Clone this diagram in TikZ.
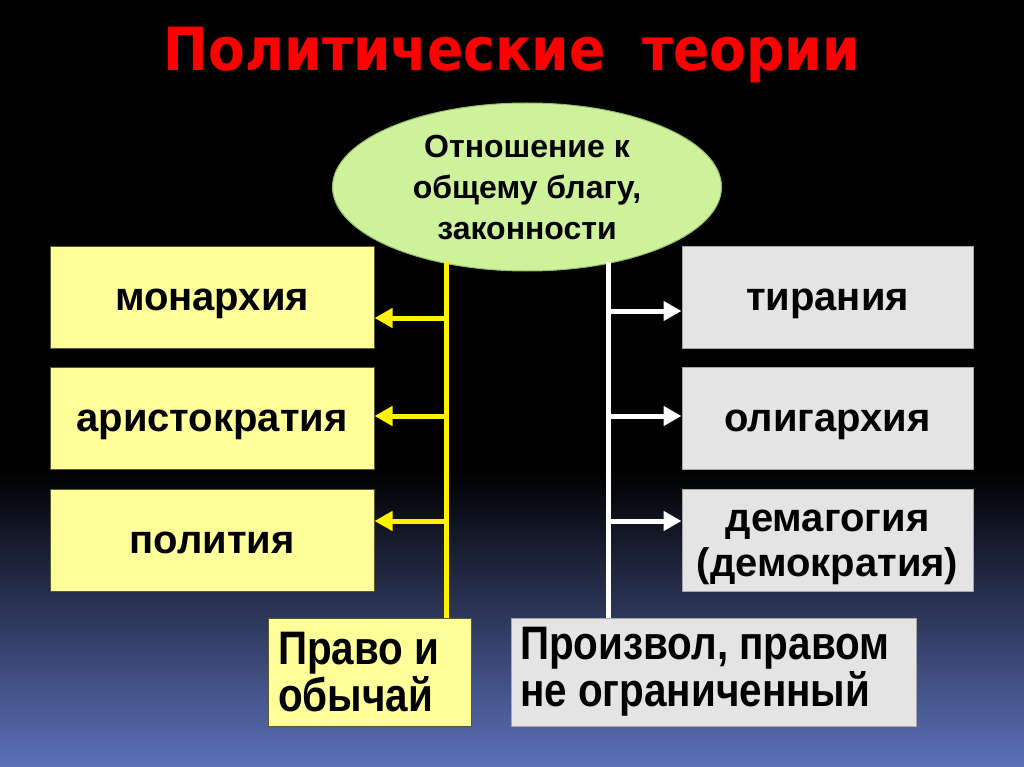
\documentclass[tikz,border=0pt]{standalone}
\usepackage{fontspec}
\setmainfont{Liberation Sans}
\newfontfamily\titlefont{DejaVu Sans Condensed}
\newfontfamily\narrowfont[FakeStretch=0.86]{Liberation Sans}
\usetikzlibrary{arrows.meta,shapes.geometric}
\definecolor{bgblue}{RGB}{92,112,184}
\definecolor{ellfill}{RGB}{206,242,156}
\definecolor{ellline}{RGB}{150,190,100}
\definecolor{yfill}{RGB}{255,255,153}
\definecolor{gfill}{RGB}{228,228,228}
\definecolor{yline}{RGB}{90,90,40}
\tikzset{
  ybox/.style={draw=yline, line width=1pt, fill=yfill, inner sep=0pt, align=center,
    minimum width=324pt, minimum height=102pt, text height=31pt, text depth=4pt,
    font=\bfseries\fontsize{40}{45}\selectfont},
  gbox/.style={draw=black!35, line width=1pt, fill=gfill, inner sep=0pt, align=center,
    minimum width=291pt, minimum height=102pt, text height=31pt, text depth=4pt,
    font=\bfseries\fontsize{40}{45}\selectfont},
  bbox/.style={line width=1pt, minimum height=108pt, inner sep=0pt,
    font=\narrowfont\bfseries\fontsize{47}{47}\selectfont, align=left},
  yconn/.style={draw=yellow, line width=5pt},
  wconn/.style={draw=white, line width=5pt},
  yarr/.style={draw=yellow, line width=5pt, -{Triangle[length=18pt,width=19pt]}},
  warr/.style={draw=white, line width=5pt, -{Triangle[length=18pt,width=19pt]}},
}
\begin{document}
\begin{tikzpicture}[x=1pt,y=-1pt]
\useasboundingbox (0,0) rectangle (1024,767);
\fill[black] (0,0) rectangle (1024,767);
\shade[top color=black, bottom color=bgblue] (0,470) rectangle (1024,767);
\node[font=\titlefont\bfseries\fontsize{59.5}{60}\selectfont, text=red] (title) at (512,55) {Политические\ \ теории};
\node[ellipse, draw=ellline, line width=1pt, fill=ellfill, minimum width=389pt, minimum height=168pt, inner sep=0pt,
  align=center, font=\bfseries\fontsize{32}{41}\selectfont] (ell) at (527,187) {Отношение к\\общему благу,\\законности};
% left boxes
\node[ybox] (m1) at (212,297) {монархия};
\node[ybox] (m2) at (212,418) {аристократия};
\node[ybox] (m3) at (212,540) {полития};
% right boxes
\node[gbox] (t1) at (827.5,297) {тирания};
\node[gbox] (t2) at (827.5,418) {олигархия};
\node[gbox, text height=76pt, text depth=4pt] (t3) at (827.5,540) {демагогия\\(демократия)};
% bottom boxes
\node[bbox, draw=yline, fill=yfill, minimum width=203pt] (law) at (369.5,672)
  {\makebox[183pt][l]{Право и}\\\makebox[183pt][l]{обычай}};
\node[bbox, draw=black!35, fill=gfill, minimum width=405pt] (arb) at (713.5,672)
  {\makebox[387pt][l]{Произвол, правом}\\\makebox[387pt][l]{не ограниченный}};
% lines
\coordinate (ytop) at (446,262);
\coordinate (wtop) at (608,262);
\draw[yconn] (ytop) -- (ytop |- law.north);
\draw[wconn] (wtop) -- (wtop |- arb.north);
\coordinate (ya1) at (446,318);
\coordinate (ya2) at (446,416);
\coordinate (ya3) at (446,521);
\coordinate (wa1) at (608,311);
\coordinate (wa2) at (608,416);
\coordinate (wa3) at (608,521);
\draw[yarr] (ya1) -- (ya1 -| m1.east);
\draw[yarr] (ya2) -- (ya2 -| m2.east);
\draw[yarr] (ya3) -- (ya3 -| m3.east);
\draw[warr] (wa1) -- (wa1 -| t1.west);
\draw[warr] (wa2) -- (wa2 -| t2.west);
\draw[warr] (wa3) -- (wa3 -| t3.west);
\end{tikzpicture}
\end{document}
